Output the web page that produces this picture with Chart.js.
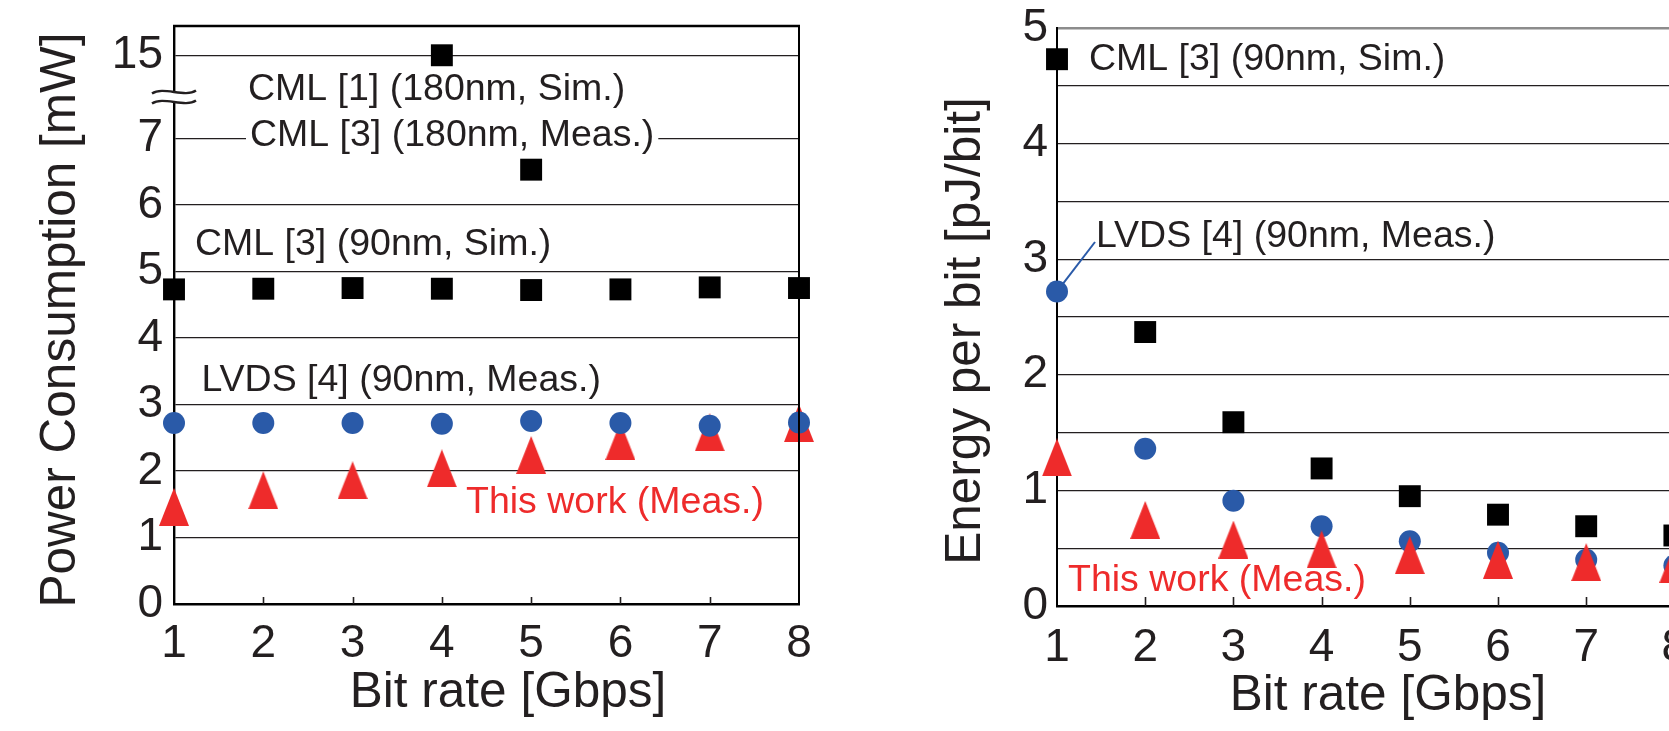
<!DOCTYPE html>
<html>
<head>
<meta charset="utf-8">
<script src="https://cdn.jsdelivr.net/npm/chart.js@4.4.1/dist/chart.umd.min.js"></script>
<style>
html,body{margin:0;padding:0;width:1669px;height:731px;overflow:hidden;background:#fff;}
#wrapL{position:absolute;left:0;top:0;width:840px;height:731px;}
#wrapR{position:absolute;left:860px;top:0;width:860px;height:731px;}
canvas{display:block;}
</style>
</head>
<body>
<div id="wrapL"><canvas id="left" width="840" height="731"></canvas></div>
<div id="wrapR"><canvas id="right" width="860" height="731"></canvas></div>
<script>
// ---------------- data ----------------
const BIT_RATE = [1, 2, 3, 4, 5, 6, 7, 8];
const X_TICK_LABELS = ['1', '2', '3', '4', '5', '6', '7', '8'];

// Left chart: Power Consumption [mW]
const PWR_CML3_90_SIM   = [4.73, 4.74, 4.75, 4.74, 4.72, 4.73, 4.76, 4.75];
const PWR_LVDS4_90_MEAS = [2.72, 2.72, 2.72, 2.71, 2.75, 2.72, 2.68, 2.73];
const PWR_THIS_WORK     = [1.46, 1.71, 1.86, 2.04, 2.24, 2.45, 2.58, 2.72];
const PWR_CML1_180_SIM_X = [4];
const PWR_CML1_180_SIM   = [15];
const PWR_CML3_180_MEAS_X = [5];
const PWR_CML3_180_MEAS   = [6.53];
const PWR_Y_TICKS = [0, 1, 2, 3, 4, 5, 6, 7, 15];

// Right chart: Energy per bit [pJ/bit]
const EPB_CML3_90_SIM   = [4.73, 2.37, 1.59, 1.19, 0.95, 0.79, 0.69, 0.61];
const EPB_LVDS4_90_MEAS = [2.72, 1.36, 0.91, 0.69, 0.56, 0.46, 0.40, 0.35];
const EPB_THIS_WORK     = [1.285, 0.745, 0.575, 0.49, 0.44, 0.40, 0.38, 0.365];
const EPB_Y_TICKS = [0, 0.5, 1, 1.5, 2, 2.5, 3, 3.5, 4, 4.5, 5];

// Texts
const TITLE_X = 'Bit rate [Gbps]';
const TITLE_Y_LEFT = 'Power Consumption [mW]';
const TITLE_Y_RIGHT = 'Energy per bit [pJ/bit]';
const LBL_CML1_180 = 'CML [1] (180nm, Sim.)';
const LBL_CML3_180 = 'CML [3] (180nm, Meas.)';
const LBL_CML3_90 = 'CML [3] (90nm, Sim.)';
const LBL_LVDS4 = 'LVDS [4] (90nm, Meas.)';
const LBL_THIS = 'This work (Meas.)';

// ---------------- style ----------------
const FONT = '"Liberation Sans", Arial, Helvetica, sans-serif';
const INK = '#231F20';
const RED = '#EE2B2B';
const BLUE = '#2A5AA8';
const TICK_FONT = {family: FONT, size: 46, lineHeight: 1};
const ANNO_SIZE = 37.5;
const TITLE_SIZE = 49.5;

// broken axis (left chart): values above the break are compressed
const BREAK_LOW = 7.5, BREAK_HIGH = 15, BREAK_POS = 8.25, BREAK_SCALE = 0.1;
function brk(v) { return v <= BREAK_LOW ? v : BREAK_POS + (v - BREAK_HIGH) * BREAK_SCALE; }

function triangleCanvas(w, h, color) {
  const c = document.createElement('canvas');
  c.width = w; c.height = h;
  const g = c.getContext('2d');
  g.fillStyle = color;
  g.beginPath(); g.moveTo(w / 2, 0); g.lineTo(w, h); g.lineTo(0, h); g.closePath(); g.fill();
  return c;
}
const TRI = triangleCanvas(30, 38, RED);

function pts(xs, ys, f) { f = f || (v => v); return xs.map((x, i) => ({x: x, y: f(ys[i])})); }

function sq(data) { return {data, pointStyle: 'rect', pointRadius: 15.5, backgroundColor: '#000', borderWidth: 0, clip: false, showLine: false}; }
function circ(data) { return {data, pointStyle: 'circle', pointRadius: 11, backgroundColor: BLUE, borderWidth: 0, clip: false, showLine: false}; }
function tri(data) { return {data, pointStyle: TRI, pointRadius: 12, backgroundColor: RED, borderWidth: 0, clip: false, showLine: false}; }

function zeroPad(s) { s.paddingLeft = 0; s.paddingRight = 0; s.paddingTop = 0; s.paddingBottom = 0; }

function xScale(axisHeight, pad) {
  return {
    type: 'linear', min: 1, max: 8,
    afterBuildTicks: s => { s.ticks = BIT_RATE.map(v => ({value: v})); },
    ticks: {autoSkip: false, maxRotation: 0, minRotation: 0, padding: pad, color: INK, font: TICK_FONT,
            callback: (v, i) => X_TICK_LABELS[i]},
    grid: {display: false},
    border: {display: true, color: '#000', width: 2.4},
    afterFit: s => { s.height = axisHeight; zeroPad(s); }
  };
}

function drawText(ctx, t) {
  ctx.save();
  ctx.font = (t.size || ANNO_SIZE) + 'px ' + FONT;
  ctx.textBaseline = 'middle';
  ctx.textAlign = t.align || 'left';
  if (t.bg) {
    const w = ctx.measureText(t.text).width;
    ctx.fillStyle = '#fff';
    ctx.fillRect(t.x - 4, t.y - 16, w + 8, 32);
  }
  ctx.fillStyle = t.color || INK;
  if (t.rot) {
    ctx.translate(t.x, t.y); ctx.rotate(t.rot); ctx.fillText(t.text, 0, 0);
  } else {
    ctx.fillText(t.text, t.x, t.y);
  }
  ctx.restore();
}

function innerTicks(chart, len) {
  const {ctx, chartArea} = chart;
  const xs = chart.scales.x;
  ctx.save();
  ctx.strokeStyle = INK; ctx.lineWidth = 1.6;
  BIT_RATE.slice(1, -1).forEach(v => {
    const px = Math.round(xs.getPixelForValue(v)) + 0.5;
    ctx.beginPath(); ctx.moveTo(px, chartArea.bottom); ctx.lineTo(px, chartArea.bottom - len); ctx.stroke();
  });
  ctx.restore();
}

// ---------------- left chart ----------------
const leftDecor = {
  id: 'leftDecor',
  afterDraw(chart) {
    const {ctx, chartArea: a} = chart;
    ctx.save();
    ctx.strokeStyle = '#000';
    ctx.lineWidth = 2.4;
    ctx.beginPath(); ctx.moveTo(a.left - 1, a.top); ctx.lineTo(a.right + 1, a.top); ctx.stroke();
    ctx.lineWidth = 2.0;
    ctx.beginPath(); ctx.moveTo(a.right, a.top); ctx.lineTo(a.right, a.bottom); ctx.stroke();
    // axis break
    const yb1 = 92, yb2 = 102;
    ctx.fillStyle = '#fff';
    ctx.fillRect(a.left - 4, yb1, 8, yb2 - yb1);
    ctx.strokeStyle = INK; ctx.lineWidth = 2.4;
    [yb1, yb2].forEach(y => {
      ctx.beginPath();
      ctx.moveTo(a.left - 22, y + 1.5);
      ctx.bezierCurveTo(a.left - 11, y - 6, a.left + 11, y + 6, a.left + 22, y - 1.5);
      ctx.stroke();
    });
    ctx.restore();
    innerTicks(chart, 7);
    drawText(ctx, {text: LBL_CML1_180, x: 248, y: 89.5});
    drawText(ctx, {text: LBL_CML3_180, x: 250, y: 136, bg: true});
    drawText(ctx, {text: LBL_CML3_90, x: 195, y: 245});
    drawText(ctx, {text: LBL_LVDS4, x: 201.5, y: 381});
    drawText(ctx, {text: LBL_THIS, x: 466, y: 503, color: RED});
    drawText(ctx, {text: TITLE_X, x: 508, y: 693.5, size: TITLE_SIZE, align: 'center'});
    drawText(ctx, {text: TITLE_Y_LEFT, x: 61.5, y: 320, size: TITLE_SIZE, align: 'center', rot: -Math.PI / 2});
  }
};

new Chart(document.getElementById('left'), {
  type: 'scatter',
  data: {
    datasets: [
      circ(pts(BIT_RATE, PWR_LVDS4_90_MEAS)),
      tri(pts(BIT_RATE, PWR_THIS_WORK)),
      sq(pts(BIT_RATE, PWR_CML3_90_SIM)),
      sq(pts(PWR_CML1_180_SIM_X, PWR_CML1_180_SIM, brk)),
      sq(pts(PWR_CML3_180_MEAS_X, PWR_CML3_180_MEAS, brk))
    ]
  },
  options: {
    responsive: false, animation: false, devicePixelRatio: 1, events: [],
    layout: {padding: {left: 0, top: 26, right: 41, bottom: 0}},
    plugins: {legend: {display: false}, tooltip: {enabled: false}},
    scales: {
      x: xScale(127, 9),
      y: {
        type: 'linear', min: 0, max: 8.69,
        afterBuildTicks: s => { s.ticks = PWR_Y_TICKS.map(v => ({value: brk(v)})); },
        ticks: {autoSkip: false, padding: 11, color: INK, font: TICK_FONT,
                callback: (v, i) => String(PWR_Y_TICKS[i])},
        grid: {color: INK, lineWidth: 1.2, drawTicks: false},
        border: {display: true, color: '#000', width: 2.4},
        afterFit: s => { s.width = 174; zeroPad(s); }
      }
    }
  },
  plugins: [leftDecor]
});

// ---------------- right chart ----------------
const rightDecor = {
  id: 'rightDecor',
  afterDraw(chart) {
    const {ctx} = chart;
    const xs = chart.scales.x, ys = chart.scales.y;
    innerTicks(chart, 9);
    // leader line from LVDS label to the 1 Gbps point
    const sx = 235, sy = 242;
    const cx = xs.getPixelForValue(BIT_RATE[0]), cy = ys.getPixelForValue(EPB_LVDS4_90_MEAS[0]);
    const dx = sx - cx, dy = sy - cy, d = Math.hypot(dx, dy);
    ctx.save();
    ctx.strokeStyle = BLUE; ctx.lineWidth = 2;
    ctx.beginPath(); ctx.moveTo(sx, sy); ctx.lineTo(cx + dx / d * 9, cy + dy / d * 9); ctx.stroke();
    ctx.restore();
    drawText(ctx, {text: LBL_CML3_90, x: 229, y: 60});
    drawText(ctx, {text: LBL_LVDS4, x: 236, y: 237});
    drawText(ctx, {text: LBL_THIS, x: 208, y: 580.5, color: RED});
    drawText(ctx, {text: TITLE_X, x: 528, y: 696, size: TITLE_SIZE, align: 'center'});
    drawText(ctx, {text: TITLE_Y_RIGHT, x: 106, y: 331, size: TITLE_SIZE, align: 'center', rot: -Math.PI / 2});
  }
};

new Chart(document.getElementById('right'), {
  type: 'scatter',
  data: {
    datasets: [
      tri(pts(BIT_RATE, EPB_THIS_WORK)),
      circ(pts(BIT_RATE, EPB_LVDS4_90_MEAS)),
      sq(pts(BIT_RATE, EPB_CML3_90_SIM))
    ]
  },
  options: {
    responsive: false, animation: false, devicePixelRatio: 1, events: [],
    layout: {padding: {left: 0, top: 28, right: 45.6, bottom: 0}},
    plugins: {legend: {display: false}, tooltip: {enabled: false}},
    scales: {
      x: xScale(125, 11),
      y: {
        type: 'linear', min: 0, max: 5,
        afterBuildTicks: s => { s.ticks = EPB_Y_TICKS.map(v => ({value: v})); },
        ticks: {autoSkip: false, padding: 9, color: INK, font: TICK_FONT,
                callback: (v, i) => Number.isInteger(EPB_Y_TICKS[i]) ? String(EPB_Y_TICKS[i]) : ''},
        grid: {
          color: c => (c.tick && c.tick.value === 5) ? '#8C8C8C' : INK,
          lineWidth: c => (c.tick && c.tick.value === 5) ? 2.4 : 1.2,
          drawTicks: false
        },
        border: {display: true, color: '#000', width: 2.0},
        afterFit: s => { s.width = 197; zeroPad(s); }
      }
    }
  },
  plugins: [rightDecor]
});
</script>
</body>
</html>
